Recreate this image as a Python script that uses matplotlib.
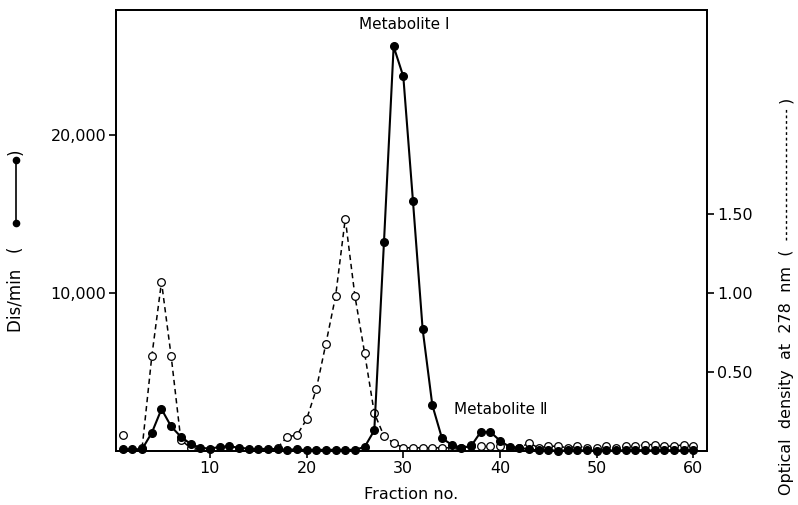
import numpy as np
import matplotlib
matplotlib.use('Agg')
import matplotlib.pyplot as plt
from matplotlib.lines import Line2D

# fraction numbers
fractions = list(range(1, 61))

# radioactivity (dis/min), filled circles, solid line
dpm = [100, 100, 120, 1150, 2650, 1550, 900, 450, 200, 150,
       250, 300, 200, 150, 100, 150, 100, 80, 100, 50,
       80, 60, 80, 60, 80, 250, 1300, 13200, 25600, 23700,
       15800, 7700, 2900, 800, 400, 200, 300, 1200, 1200, 650,
       250, 200, 100, 30, 50, 20, 40, 30, 50, 20,
       40, 30, 50, 60, 40, 30, 50, 40, 30, 50]

# optical density at 278 nm, open circles, dashed line (nan = not shown)
nan = np.nan
od = [0.10, nan, 0.02, 0.60, 1.07, 0.60, 0.07, 0.02, nan, nan,
      nan, nan, nan, nan, nan, nan, 0.02, 0.09, 0.10, 0.20,
      0.39, 0.68, 0.98, 1.47, 0.98, 0.62, 0.24, 0.095, 0.05, 0.02,
      0.02, 0.02, 0.02, 0.02, 0.02, 0.02, 0.04, 0.03, 0.03, 0.03,
      0.02, 0.02, 0.05, 0.02, 0.03, 0.03, 0.02, 0.03, 0.02, 0.02,
      0.03, 0.02, 0.03, 0.03, 0.04, 0.04, 0.03, 0.03, 0.04, 0.03]

left_ticks = [10000, 20000]
left_labels = ['10,000', '20,000']
right_ticks = [0.50, 1.00, 1.50]
right_labels = ['0.50', '1.00', '1.50']
x_ticks = [10, 20, 30, 40, 50, 60]

plt.rcParams['font.family'] = ['DejaVu Sans']
fig = plt.figure(figsize=(7.98, 5.05), dpi=100)
ax = fig.add_axes([0.1454, 0.107, 0.7406, 0.873])
ax2 = ax.twinx()

ax.set_xlim(0.3, 61.4)
ax.set_ylim(0, 27900)
ax2.set_ylim(0, 2.79)

# OD curve underneath
ax2.plot(fractions, od, color='black', lw=1.1, ls=(0, (3.5, 2.5)),
         marker='o', ms=5.5, mfc='white', mec='black', mew=0.9, zorder=2)
ax.set_zorder(ax2.get_zorder() + 1)
ax.patch.set_visible(False)
ax.plot(fractions, dpm, color='black', lw=1.5, marker='o', ms=5.5,
        mfc='black', mec='black', zorder=3, clip_on=False)

ax.set_xticks(x_ticks)
ax.set_yticks(left_ticks)
ax.set_yticklabels(left_labels)
ax2.set_yticks(right_ticks)
ax2.set_yticklabels(right_labels)
for a in (ax, ax2):
    a.tick_params(direction='out', length=5, width=1.2, labelsize=11.5, pad=2)
    for s in a.spines.values():
        s.set_linewidth(1.3)

ax.set_xlabel('Fraction no.', fontsize=11.5, labelpad=8)

ax.text(30.1, 27000, 'Metabolite Ⅰ', ha='center', va='center', fontsize=11)
ax.text(40.1, 2600, 'Metabolite Ⅱ', ha='center', va='center', fontsize=11)

# left axis label with line/dot key
W, H = 798, 505
fig.text(16 / W, (H - 332) / H, 'Dis/min   (', rotation=90, rotation_mode='anchor',
         ha='left', va='center', fontsize=12)
fig.add_artist(Line2D([16 / W, 16 / W], [(H - 223) / H, (H - 160) / H], color='black',
                      lw=1.2, marker='o', ms=4.5, transform=fig.transFigure))
fig.text(16 / W, (H - 155) / H, ')', rotation=90, rotation_mode='anchor',
         ha='left', va='center', fontsize=12)

# right axis label with dashed key
fig.text(786 / W, (H - 495) / H, 'Optical  density  at  278  nm  (', rotation=90,
         rotation_mode='anchor', ha='left', va='center', fontsize=11.5)
fig.add_artist(Line2D([786 / W, 786 / W], [(H - 240) / H, (H - 108) / H], color='black',
                      lw=1.0, ls=(0, (2, 2)), transform=fig.transFigure))
fig.text(786 / W, (H - 103) / H, ')', rotation=90, rotation_mode='anchor',
         ha='left', va='center', fontsize=11.5)

fig.savefig('out.png', dpi=100)
